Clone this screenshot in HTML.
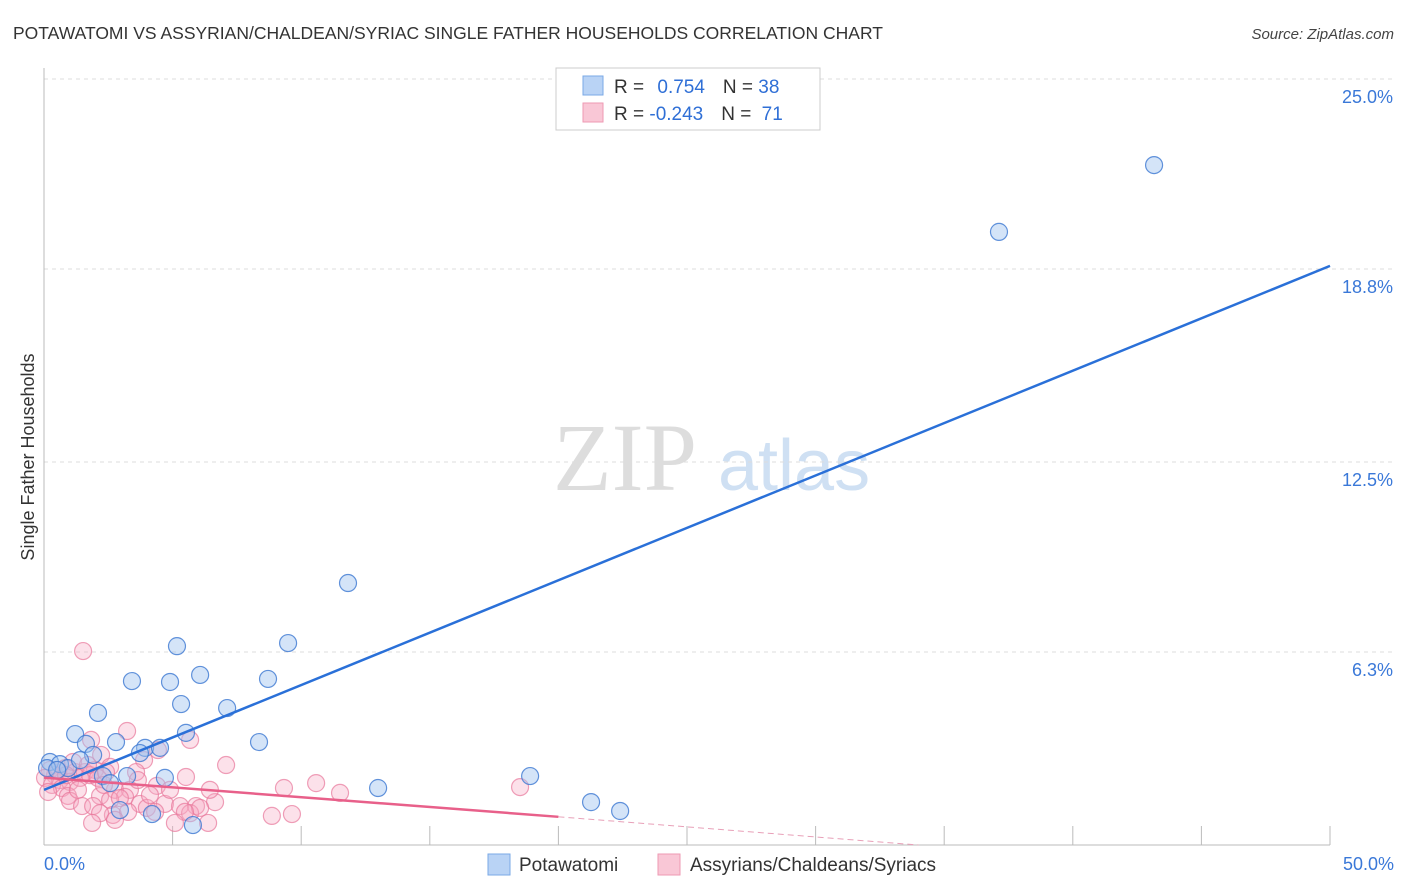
<!DOCTYPE html>
<html><head><meta charset="utf-8"><style>
body{margin:0;background:#fff;font-family:"Liberation Sans",sans-serif;}
svg{display:block}
</style></head><body>
<svg id="chart" width="1406" height="892" xmlns="http://www.w3.org/2000/svg">
<text x="13" y="39" font-size="17.5" fill="#333">POTAWATOMI VS ASSYRIAN/CHALDEAN/SYRIAC SINGLE FATHER HOUSEHOLDS CORRELATION CHART</text>
<text x="1394" y="39" font-size="15" fill="#444" text-anchor="end" font-style="italic">Source: ZipAtlas.com</text>
<g>
<text x="553" y="490" font-size="96" font-family="Liberation Serif,serif" fill="#ddd">ZIP</text>
<text x="718" y="490" font-size="72" fill="#cfe0f3">atlas</text>
</g>
<g id="grid"></g>
<g id="axes"></g>
<g id="pts"></g>
<g id="lines"></g>
<text transform="translate(34,457) rotate(-90)" font-size="18" fill="#333" text-anchor="middle">Single Father Households</text>
<g>
<rect x="556" y="68" width="264" height="62" fill="#fff" stroke="#ccc"/>
<rect x="583" y="76" width="20" height="19" fill="#b9d3f5" stroke="#7aa8e6"/>
<rect x="583" y="103" width="20" height="19" fill="#f9c7d6" stroke="#ee9ab3"/>
<text x="614" y="93" font-size="19" fill="#333">R = <tspan fill="#2f6fd6" dx="8">0.754</tspan><tspan dx="18" fill="#333">N = </tspan><tspan fill="#2f6fd6">38</tspan></text>
<text x="614" y="120" font-size="19" fill="#333">R = <tspan fill="#2f6fd6">-0.243</tspan><tspan dx="18" fill="#333">N = </tspan><tspan fill="#2f6fd6" dx="5">71</tspan></text>
</g>
<g>
<rect x="488" y="854" width="22" height="21" fill="#b9d3f5" stroke="#7aa8e6"/>
<text x="519" y="871" font-size="19" fill="#333">Potawatomi</text>
<rect x="658" y="854" width="22" height="21" fill="#f9c7d6" stroke="#ee9ab3"/>
<text x="690" y="871" font-size="19" fill="#333">Assyrians/Chaldeans/Syriacs</text>
</g>
</svg>
<script>
const yTicks=[25.0,18.8,12.5,6.3];
const yTickLabels=["25.0%","18.8%","12.5%","6.3%"];
const xTicks=[0,5,10,15,20,25,30,35,40,45,50];
const blueX=[43.16,37.13,11.82,9.49,5.17,6.07,3.42,4.90,8.71,2.10,5.33,7.12,1.21,5.52,2.80,1.63,8.36,3.93,4.51,3.73,1.91,0.23,0.62,0.93,2.29,3.23,4.70,18.90,12.99,2.57,4.20,5.79,21.27,22.40,0.12,0.51,2.95,1.40];
const blueY=[22.19,20.01,8.55,6.59,6.49,5.55,5.35,5.32,5.42,4.31,4.60,4.47,3.62,3.66,3.36,3.30,3.36,3.17,3.17,3.00,2.94,2.71,2.64,2.51,2.25,2.25,2.19,2.25,1.86,2.02,1.01,0.65,1.40,1.11,2.51,2.45,1.14,2.77];
const pinkX=[1.52,3.23,1.83,5.68,4.43,2.22,3.89,7.08,0.23,0.82,1.21,0.43,1.59,1.98,2.57,0.62,1.01,1.40,0.04,0.31,0.70,0.16,1.79,2.10,2.41,3.58,5.52,10.58,9.33,11.51,18.51,2.76,3.34,4.39,3.15,2.18,0.93,1.01,1.48,1.91,2.57,2.95,3.73,2.68,4.70,5.29,5.91,6.65,5.68,6.07,5.48,4.00,4.32,3.27,2.18,1.87,2.76,5.09,6.38,8.86,9.64,0.54,1.13,1.71,0.86,1.32,2.33,3.65,4.12,4.90,6.45];
const pinkY=[6.33,3.72,3.43,3.43,3.10,2.94,2.77,2.61,2.45,2.51,2.38,2.28,2.38,2.45,2.55,2.12,2.06,2.19,2.19,1.96,1.86,1.73,2.28,2.19,2.38,2.38,2.22,2.02,1.86,1.70,1.89,1.80,1.80,1.93,1.57,1.60,1.60,1.44,1.27,1.27,1.47,1.53,1.34,0.98,1.34,1.27,1.27,1.40,1.04,1.21,1.08,1.21,1.08,1.08,1.04,0.72,0.82,0.72,0.72,0.95,1.01,2.45,2.71,2.61,2.28,1.80,1.96,2.12,1.63,1.80,1.80];
const blueTrend=[[0,1.8],[50,18.9]];
const pinkTrend=[[0,2.2],[20,0.92]];
const pinkTrendExt=[[20,0.92],[34,0]];
const NS="http://www.w3.org/2000/svg";
const X=v=>44+v*25.72, Y=v=>845-v*30.64;
function mk(t,a,p){const e=document.createElementNS(NS,t);for(const k in a)e.setAttribute(k,a[k]);p.appendChild(e);return e;}
const g=document.getElementById('grid'),ax=document.getElementById('axes'),pts=document.getElementById('pts'),ln=document.getElementById('lines');
yTicks.forEach((v,i)=>{const l=mk('line',{x1:44,x2:1394,y1:Y(v),y2:Y(v),stroke:'#ddd','stroke-dasharray':'4,4'},g);


const t=mk('text',{x:1393,y:Y(v)+24,'font-size':18,fill:'#3a78d8','text-anchor':'end'},g);t.textContent=yTickLabels[i];

});
const ya=mk('line',{x1:44,x2:44,y1:68,y2:845,stroke:'#bbb'},ax);


const xa=mk('line',{x1:44,x2:1330,y1:845,y2:845,stroke:'#bbb'},ax);


xTicks.forEach(v=>{const l=mk('line',{x1:X(v),x2:X(v),y1:826,y2:845,stroke:'#bbb'},ax);

});
[["0.0%",44,'start'],["50.0%",1394,'end']].forEach(a=>{const t=mk('text',{x:a[1],y:870,'font-size':18,fill:'#3a78d8','text-anchor':a[2]},ax);t.textContent=a[0];

});
pinkX.forEach((v,i)=>{const c=mk('circle',{cx:X(v),cy:Y(pinkY[i]),r:8.5,fill:'rgba(246,170,195,0.35)',stroke:'rgba(232,120,155,0.7)','stroke-width':1.2},pts);

});
blueX.forEach((v,i)=>{const c=mk('circle',{cx:X(v),cy:Y(blueY[i]),r:8.5,fill:'rgba(160,195,240,0.45)',stroke:'rgba(60,120,210,0.8)','stroke-width':1.2},pts);

});
const b=mk('line',{x1:X(blueTrend[0][0]),y1:Y(blueTrend[0][1]),x2:X(blueTrend[1][0]),y2:Y(blueTrend[1][1]),stroke:'#2a70d8','stroke-width':2.5},ln);


const p=mk('line',{x1:X(pinkTrend[0][0]),y1:Y(pinkTrend[0][1]),x2:X(pinkTrend[1][0]),y2:Y(pinkTrend[1][1]),stroke:'#e8608a','stroke-width':2.5},ln);


const pd=mk('line',{x1:X(pinkTrendExt[0][0]),y1:Y(pinkTrendExt[0][1]),x2:X(pinkTrendExt[1][0]),y2:Y(pinkTrendExt[1][1]),stroke:'#e8a0b8','stroke-width':1,'stroke-dasharray':'6,4'},ln);


</script>
</body></html>
